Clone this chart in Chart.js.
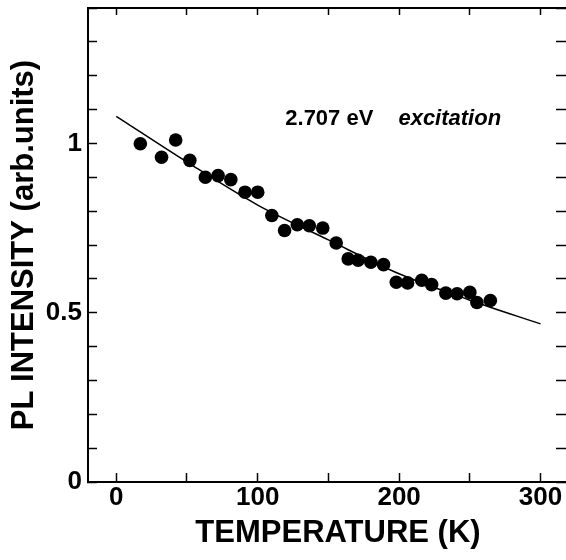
<!DOCTYPE html>
<html>
<head>
<meta charset="utf-8">
<script src="https://cdn.jsdelivr.net/npm/chart.js@4.4.1/dist/chart.umd.min.js"></script>
<style>
  html,body{margin:0;padding:0;background:#fff;overflow:hidden;}
  #plChart{display:block;}
</style>
</head>
<body>
<canvas id="plChart" width="566" height="560"></canvas>
<script>
// measured points (temperature in K, PL intensity in arb. units)
const tempK=[17,32,42,52,63,72,81,91,100,110,119,128,136.5,146,155.5,164,171,180,189,198,206,216,223,233,241,250,255,264.5];
const plInt=[0.999,0.959,1.010,0.950,0.900,0.905,0.893,0.856,0.856,0.787,0.743,0.760,0.757,0.750,0.706,0.659,0.655,0.649,0.642,0.590,0.588,0.596,0.583,0.558,0.556,0.560,0.530,0.536];

// fitted curve
const fitK=[0,50,100,150,200,250,300];
const fitI=[1.08,0.945,0.818,0.715,0.615,0.537,0.467];

const xLabels=[0,100,200,300];
const yLabels=[0,0.5,1];

const FONT='"Liberation Sans", Arial, Helvetica, sans-serif';

const textPlugin={
  id:'texts',
  afterDraw(chart){
    const ctx=chart.ctx, xs=chart.scales.x, ys=chart.scales.y;
    ctx.save();
    ctx.fillStyle='#000';
    ctx.textBaseline='alphabetic';
    // axis titles
    ctx.font='bold 31px '+FONT;
    ctx.textAlign='center';
    ctx.fillText('TEMPERATURE (K)',338,542);
    ctx.save();
    ctx.translate(33,245);
    ctx.rotate(-Math.PI/2);
    ctx.fillText('PL INTENSITY (arb.units)',0,0);
    ctx.restore();
    // annotation
    ctx.textAlign='left';
    ctx.font='bold 22px '+FONT;
    ctx.fillText('2.707 eV',xs.getPixelForValue(119.5),ys.getPixelForValue(1.053));
    ctx.font='italic bold 22px '+FONT;
    ctx.fillText('excitation',xs.getPixelForValue(199.5),ys.getPixelForValue(1.053));
    ctx.restore();
  }
};

const near=(v,list)=>list.some(l=>Math.abs(v-l)<1e-6);
const tickFont={family:FONT,size:26,weight:'bold'};
// fixed box sizes, no extra label padding
const fixBox=(w,h)=>s=>{
  if(w!==null) s.width=w;
  if(h!==null) s.height=h;
  s.paddingTop=0; s.paddingBottom=0; s.paddingLeft=0; s.paddingRight=0;
};

new Chart(document.getElementById('plChart').getContext('2d'),{
  type:'scatter',
  data:{
    datasets:[
      {data:fitK.map((k,i)=>({x:k,y:fitI[i]})), showLine:true, borderColor:'#000', borderWidth:1.5,
       pointRadius:0, cubicInterpolationMode:'monotone', fill:false, order:2},
      {data:tempK.map((k,i)=>({x:k,y:plInt[i]})), pointRadius:6.8, pointBackgroundColor:'#000',
       pointBorderWidth:0, showLine:false, order:1}
    ]
  },
  options:{
    responsive:false, animation:false, devicePixelRatio:1,
    layout:{padding:0, autoPadding:false},
    plugins:{legend:{display:false}, tooltip:{enabled:false}},
    scales:{
      x:{type:'linear', position:'bottom', min:-20, max:318,
         afterFit:fixBox(null,78),
         border:{display:true,color:'#000',width:2},
         grid:{drawOnChartArea:false, tickLength:-9, tickColor:'#000', tickWidth:1.5},
         ticks:{stepSize:50, includeBounds:false, autoSkip:false, padding:9, color:'#000', font:tickFont, maxRotation:0,
                callback:v=>near(v,xLabels)?String(v):''}},
      x2:{type:'linear', position:'top', min:-20, max:318,
         afterFit:fixBox(null,8),
         border:{display:true,color:'#000',width:2},
         grid:{drawOnChartArea:false, tickLength:-7, tickColor:'#000', tickWidth:1.5},
         ticks:{display:false, stepSize:50, includeBounds:false, autoSkip:false}},
      y:{type:'linear', position:'left', min:0, max:1.4,
         afterFit:fixBox(88,null),
         border:{display:true,color:'#000',width:2},
         grid:{drawOnChartArea:false, tickLength:-9, tickColor:'#000', tickWidth:1.5},
         ticks:{stepSize:0.1, includeBounds:false, autoSkip:false, padding:15, color:'#000', font:tickFont,
                callback:v=>near(v,yLabels)?String(Math.round(v*10)/10):''}},
      y2:{type:'linear', position:'right', min:0, max:1.4,
         afterFit:fixBox(0,null),
         border:{display:false},
         grid:{drawOnChartArea:false, tickLength:-10, tickColor:'#000', tickWidth:1.5},
         ticks:{display:false, stepSize:0.1, includeBounds:false, autoSkip:false}}
    }
  },
  plugins:[textPlugin]
});
</script>
</body>
</html>
